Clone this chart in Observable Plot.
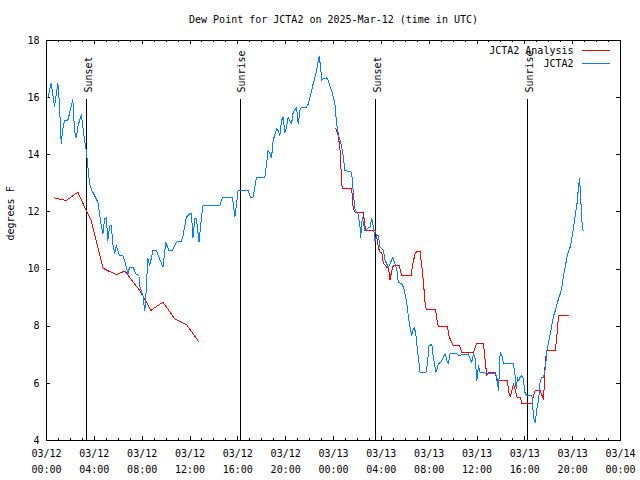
<!DOCTYPE html>
<html>
<head>
<meta charset="utf-8">
<script src="https://cdn.jsdelivr.net/npm/d3@7"></script>
<script src="https://cdn.jsdelivr.net/npm/@observablehq/plot@0.6"></script>
<style>
  html, body { margin: 0; padding: 0; background: #fff; }
  svg { shape-rendering: crispEdges; }
</style>
</head>
<body>
<div id="chart"></div>
<script>
// Hours since 2025-03-12 00:00 UTC
const titleText = "Dew Point for JCTA2 on 2025-Mar-12 (time in UTC)";
const yLabelText = "degrees F";

// JCTA2 observations
const obsHours = [0.11,0.39,0.67,0.95,1.08,1.23,1.36,1.51,1.78,2.07,2.2,2.35,2.49,2.63,2.91,3.04,3.18,3.32,3.46,3.6,
  3.74,4.02,4.3,4.44,4.58,4.72,4.86,5.0,5.13,5.28,5.42,5.55,5.7,5.84,6.11,6.39,6.53,6.81,6.95,7.23,
  7.51,7.73,7.79,8.07,8.21,8.29,8.35,8.48,8.63,8.9,9.19,9.46,9.74,9.97,10.24,10.53,10.86,11.28,11.42,11.7,
  11.98,12.12,12.25,12.4,12.54,12.76,12.96,13.09,14.49,14.71,15.55,15.75,15.89,16.02,16.86,17.06,17.28,17.42,17.56,18.26,
  18.4,18.53,18.68,18.82,18.95,19.24,19.37,19.51,19.66,19.79,19.93,20.07,20.21,20.35,20.49,20.63,20.91,21.05,21.19,21.33,
  21.75,21.89,22.03,22.3,22.59,22.72,22.81,22.92,23.01,23.14,23.43,23.56,23.84,24.12,24.26,24.4,24.68,24.82,24.96,25.52,
  25.65,25.79,26.07,26.21,26.27,26.41,26.63,26.91,27.05,27.19,27.33,27.47,27.6,27.75,27.89,28.17,28.31,28.58,28.73,28.95,
  29.15,29.29,29.42,29.71,29.9,30.04,30.18,30.26,30.4,30.54,30.63,30.76,30.9,31.01,31.24,31.74,31.85,31.99,32.22,32.35,
  32.5,32.58,32.77,32.97,33.19,33.33,33.48,33.61,33.75,34.31,34.45,35.28,35.43,35.57,35.7,35.85,35.99,36.12,36.26,36.68,
  37.52,37.66,37.8,37.94,38.08,38.22,39.05,39.2,39.28,39.39,39.47,39.61,39.76,39.84,39.95,40.03,40.18,40.59,40.73,40.87,
  41.01,41.15,41.29,41.43,41.57,41.71,41.85,41.99,42.13,42.27,42.41,42.55,42.69,42.82,42.96,43.1,43.24,43.38,43.52,43.66,
  43.8,43.94,44.08,44.22,44.36,44.5,44.58,44.7,44.78,44.87];
const obsDew = [16.0,16.5,15.7,16.5,15.8,14.4,14.9,15.2,15.2,15.7,15.95,14.8,14.6,15.0,15.4,15.0,14.5,14.15,13.6,13.0,
  12.8,12.57,12.34,11.94,11.52,11.23,11.76,11.8,11.0,11.5,11.52,10.88,10.53,10.82,10.48,10.48,10.3,9.83,10.07,10.07,
  9.81,9.78,9.42,9.07,8.55,8.85,9.42,10.36,10.12,10.65,10.65,10.36,10.07,10.94,10.65,10.65,10.94,10.98,11.17,11.82,
  11.93,11.93,11.1,11.76,11.76,10.94,11.82,12.23,12.23,12.49,12.49,11.82,12.28,12.75,12.75,12.52,12.52,12.87,13.22,13.22,
  13.68,14.15,14.03,13.9,14.5,14.91,14.85,14.67,15.2,15.32,14.79,14.95,15.32,15.2,15.08,15.49,15.67,15.08,15.55,15.67,
  15.67,15.78,16.02,16.48,16.95,17.3,17.44,17.07,16.6,16.65,16.69,16.6,16.25,15.78,15.08,14.73,14.3,13.92,13.45,13.39,
  12.69,12.11,11.9,11.52,11.12,11.82,11.35,11.45,11.47,11.76,11.5,11.0,11.17,11.17,10.76,10.65,10.3,10.07,10.18,10.42,
  10.18,10.0,9.54,9.48,9.31,9.02,8.67,8.32,7.97,7.67,7.85,7.97,7.67,7.21,6.39,6.39,6.68,7.32,7.36,6.91,
  6.56,6.39,6.68,6.74,6.91,7.03,6.8,6.68,7.03,7.03,6.98,7.03,6.86,6.74,7.03,6.86,6.1,6.62,6.39,6.36,
  6.36,6.22,5.75,7.09,6.97,6.68,6.68,6.22,5.8,6.22,6.1,6.22,6.27,6.2,5.9,5.63,5.58,5.58,4.81,4.64,
  5.11,5.4,6.1,6.22,6.22,6.51,7.15,7.44,7.73,8.08,8.37,8.55,8.78,8.96,9.13,9.37,9.78,10.07,10.42,10.65,
  10.77,11.12,11.47,11.88,12.28,12.92,13.16,12.28,11.64,11.35];

// JCTA2 Analysis, first run
const anaHoursA = [0.67,1.1,1.65,2.62,3.32,3.74,4.16,4.72,5.84,6.53,6.7,7.79,8.21,8.71,9.74,10.72,11.7,12.76];
const anaDewA   = [12.49,12.45,12.4,12.69,12.05,11.7,11.0,10.03,9.8,9.93,9.85,9.25,8.96,8.55,8.84,8.26,8.06,7.44];
// JCTA2 Analysis, second run
const anaHoursB = [24.2,24.4,24.54,24.68,24.73,25.52,25.65,25.79,26.49,26.63,26.77,27.47,27.61,27.75,27.89,28.03,28.17,28.45,28.58,28.73,
  28.87,29.0,29.5,29.7,30.49,30.63,30.82,30.96,31.24,31.38,31.51,31.66,31.77,32.54,32.64,32.77,33.53,33.63,33.75,34.03,
  34.53,34.73,35.7,35.99,36.54,36.68,36.82,36.96,37.52,37.66,38.55,38.63,38.78,38.92,39.05,39.25,39.34,39.61,39.76,40.59,
  40.73,40.87,41.29,41.43,41.57,41.65,41.71,41.85,42.55,42.69,42.82,43.66];
const anaDewB   = [14.91,14.67,14.2,13.1,12.81,12.81,12.11,11.99,11.97,11.52,11.35,11.35,11.15,10.75,10.59,10.59,10.2,10.07,10.07,9.62,
  9.95,10.12,10.12,9.78,9.78,10.18,10.53,10.61,10.61,10.12,9.6,8.8,8.57,8.57,8.26,7.99,7.99,7.7,7.56,7.32,
  7.32,7.09,7.09,7.41,7.41,6.8,6.27,6.39,6.39,6.1,6.1,5.75,5.52,5.75,5.98,5.69,5.52,5.52,5.28,5.28,
  5.58,5.75,5.75,5.58,5.42,6.22,6.8,7.15,7.15,7.73,8.37,8.37];

const sunNames = ["Sunset", "Sunrise", "Sunset", "Sunrise"];
const sunHours = [3.38, 16.2, 27.5, 40.23];

const yTicks = [4, 6, 8, 10, 12, 14, 16, 18];
const majorTickHours = [0, 4, 8, 12, 16, 20, 24, 28, 32, 36, 40, 44, 48];
const minorTickHours = d3.range(0, 49).filter(h => h % 4 !== 0);

const legendNames = ["JCTA2 Analysis", "JCTA2"];
const seriesColors = ["#ff0000", "#0080ff"];

const t0 = Date.UTC(2025, 2, 12);
const toDate = h => new Date(t0 + h * 3600e3);

const obs = obsHours.map((h, i) => ({t: toDate(h), v: obsDew[i]}));
const anaA = anaHoursA.map((h, i) => ({t: toDate(h), v: anaDewA[i]}));
const anaB = anaHoursB.map((h, i) => ({t: toDate(h), v: anaDewB[i]}));
const sun = sunNames.map((n, i) => ({name: n, t: toDate(sunHours[i])}));
const majorTicks = majorTickHours.map(toDate);
const minorTicks = minorTickHours.map(toDate);

const fmt = d3.utcFormat("%m/%d\n%H:%M");
const W = 640, H = 480, mL = 46, mR = 20, mT = 40, mB = 40;
const frameW = W - mL - mR, frameH = H - mT - mB;

const chart = Plot.plot({
  width: W, height: H,
  marginLeft: mL, marginRight: mR, marginTop: mT, marginBottom: mB,
  style: {fontFamily: "'DejaVu Sans Mono', monospace", fontSize: "10px", background: "#fff", color: "#000"},
  x: {type: "utc", domain: [toDate(0), toDate(48)]},
  y: {domain: [4, 18]},
  marks: [
    Plot.axisX(majorTicks, {tickSize: 0, tickPadding: 5.5, tickFormat: fmt, lineHeight: 1.6, label: null}),
    Plot.axisY(yTicks, {tickSize: 0, tickPadding: 7, label: null}),
    // inward ticks
    Plot.ruleX(majorTicks, {insetTop: frameH - 4}),
    Plot.ruleX(majorTicks, {insetBottom: frameH - 4}),
    Plot.ruleX(minorTicks, {insetTop: frameH - 2}),
    Plot.ruleX(minorTicks, {insetBottom: frameH - 2}),
    Plot.ruleY(yTicks, {insetRight: frameW - 4}),
    Plot.ruleY(yTicks, {insetLeft: frameW - 4}),
    // sunrise / sunset
    Plot.ruleX(sun, {x: "t", insetTop: 59, stroke: "#000"}),
    Plot.text(sun, {x: "t", text: "name", frameAnchor: "top", dx: 2, dy: 52, rotate: -90, textAnchor: "start", lineAnchor: "middle", fill: "#000"}),
    // series
    Plot.line(anaA, {x: "t", y: "v", stroke: seriesColors[0], strokeWidth: 1}),
    Plot.line(anaB, {x: "t", y: "v", stroke: seriesColors[0], strokeWidth: 1}),
    Plot.line(obs, {x: "t", y: "v", stroke: seriesColors[1], strokeWidth: 1}),
    Plot.frame({stroke: "#000"}),
    // title and labels
    Plot.text([titleText], {frameAnchor: "top", dy: -21, lineAnchor: "middle", fill: "#000"}),
    Plot.text([yLabelText], {frameAnchor: "left", dx: -36, rotate: -90, lineAnchor: "middle", fill: "#000"}),
    Plot.text([legendNames[0]], {frameAnchor: "top-right", dx: -47, dy: 10, textAnchor: "end", lineAnchor: "middle", fill: "#000"}),
    Plot.text([legendNames[1]], {frameAnchor: "top-right", dx: -47, dy: 23, textAnchor: "end", lineAnchor: "middle", fill: "#000"})
  ]
});

// legend swatches
const svg = d3.select(chart);
legendNames.forEach((n, i) => {
  svg.append("line")
    .attr("x1", W - mR - 38).attr("x2", W - mR - 10)
    .attr("y1", mT + 10 + 13 * i).attr("y2", mT + 10 + 13 * i)
    .attr("stroke", seriesColors[i]).attr("stroke-width", 1);
});

document.getElementById("chart").appendChild(chart);
</script>
</body>
</html>
